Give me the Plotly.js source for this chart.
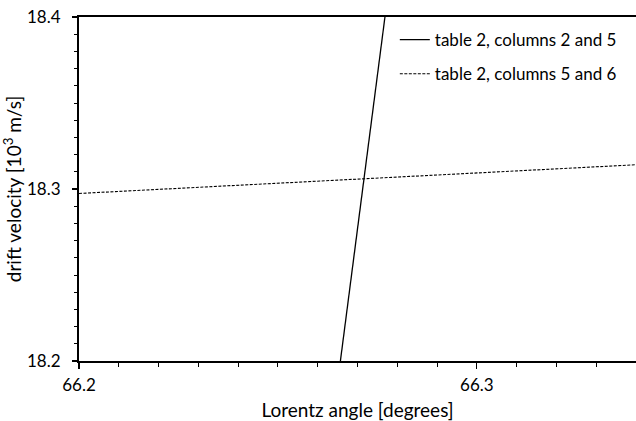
<!DOCTYPE html>
<html>
<head>
<meta charset="utf-8">
<script src="https://cdn.plot.ly/plotly-3.0.1.min.js"></script>
<style>html,body{margin:0;padding:0;background:#fff;}#chart{width:636px;height:421px;}</style>
</head>
<body>
<div id="chart"></div>
<script>
const seriesNames = ["table 2, columns 2 and 5", "table 2, columns 5 and 6"];
const solidX = [66.2657, 66.2769];
const solidY = [18.2, 18.4];
const dashedX = [66.2, 66.34];
const dashedY = [18.2974, 18.3141];
const xTickVals = [66.2, 66.3];
const yTickVals = [18.2, 18.3, 18.4];

const FONT = "Lato, 'Open Sans', sans-serif";

const traces = [
  {x: solidX, y: solidY, mode: "lines", name: seriesNames[0], legendgroup: "a",
   line: {color: "#000", width: 1.3, dash: "solid"}},
  {x: dashedX, y: dashedY, mode: "lines", name: seriesNames[1], legendgroup: "b",
   line: {color: "#000", width: 1.1, dash: "3px,1.5px"}}
];

const layout = {
  width: 636, height: 421,
  margin: {l: 79, r: 0, t: 17, b: 60},
  paper_bgcolor: "#fff", plot_bgcolor: "#fff",
  font: {family: FONT, size: 17, color: "#000"},
  showlegend: true,
  legend: {x: 0.567, xanchor: "left", y: 0.985, yanchor: "top",
           font: {family: FONT, size: 17, color: "#000"},
           tracegroupgap: 9, traceorder: "grouped", bgcolor: "rgba(0,0,0,0)"},
  xaxis: {
    range: [66.2, 66.34], tickvals: xTickVals, ticktext: xTickVals.map(v => v.toFixed(1)),
    showgrid: false, zeroline: false, showline: true, linecolor: "#000", linewidth: 2,
    mirror: true, ticks: "outside", ticklen: 6, tickwidth: 1.2, tickcolor: "#000",
    ticklabelstandoff: 2,
    minor: {dtick: 0.01, tick0: 66.2, ticks: "outside", ticklen: 4, tickwidth: 1, tickcolor: "#000", showgrid: false},
    title: {text: "Lorentz angle [degrees]", font: {family: FONT, size: 19, color: "#000"}, standoff: 16}
  },
  yaxis: {
    range: [18.2, 18.4], tickvals: yTickVals, ticktext: yTickVals.map(v => v.toFixed(1)),
    showgrid: false, zeroline: false, showline: true, linecolor: "#000", linewidth: 2,
    mirror: false, ticks: "outside", ticklen: 5, tickwidth: 1.2, tickcolor: "#000",
    ticklabelstandoff: 8,
    minor: {dtick: 0.01, tick0: 18.2, ticks: "outside", ticklen: 3, tickwidth: 1, tickcolor: "#000", showgrid: false},
    title: {text: "drift velocity [10<sup>3</sup> m/s]", font: {family: FONT, size: 19, color: "#000"}, standoff: 3}
  }
};

Plotly.newPlot("chart", traces, layout, {displayModeBar: false, staticPlot: true});
</script>
</body>
</html>
